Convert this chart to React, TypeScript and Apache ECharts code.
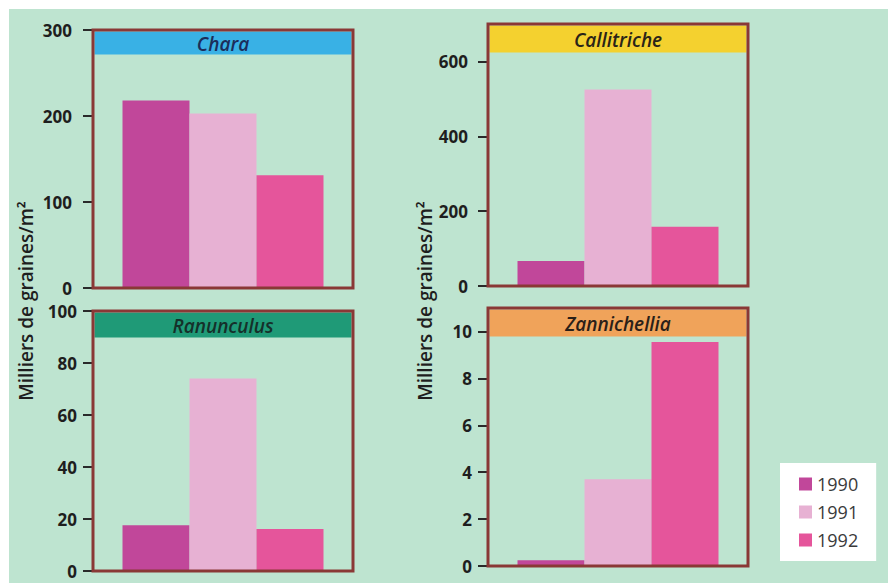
import React, { useEffect, useRef } from "react";
import * as echarts from "echarts";

// ---- data ----
const years = ["1990", "1991", "1992"];
const species = ["Chara", "Callitriche", "Ranunculus", "Zannichellia"];
const charaValues = [218, 203, 131];
const callitricheValues = [67, 525, 158];
const ranunculusValues = [17.6, 74, 16.2];
const zannichelliaValues = [0.25, 3.7, 9.55];
const charaTicks = [0, 100, 200, 300];
const callitricheTicks = [0, 200, 400, 600];
const ranunculusTicks = [0, 20, 40, 60, 80, 100];
const zannichelliaTicks = [0, 2, 4, 6, 8, 10];
const axisMax = [300, 700, 100, 11];
const axisTitle = "Milliers de graines/m²";

const seriesValues = [charaValues, callitricheValues, ranunculusValues, zannichelliaValues];
const tickValues = [charaTicks, callitricheTicks, ranunculusTicks, zannichelliaTicks];

// ---- styles / layout ----
const yearColors = ["#c1479a", "#e7b1d3", "#e5559b"];
const bandColors = ["#39b1e5", "#f4d12f", "#1f9a77", "#f0a35a"];
const titleColors = ["#1c2d5a", "#2a2418", "#15302a", "#2a2018"];
const layout = [
  { left: 93, top: 30, width: 260, height: 258, bandH: 23, margin: 21 },
  { left: 488, top: 24, width: 260, height: 262, bandH: 27, margin: 20 },
  { left: 93, top: 311, width: 260, height: 260, bandH: 25, margin: 16 },
  { left: 488, top: 308, width: 260, height: 258, bandH: 27, margin: 16 },
];
const MINT = "#bee4d0";
const FRAME = "#8a3836";
const FONT = "'Open Sans', 'DejaVu Sans', sans-serif";

export default function App() {
  const ref = useRef<HTMLDivElement>(null);
  useEffect(() => {
    document.body.style.margin = "0";
    if (!ref.current) return;
    const chart = echarts.init(ref.current, undefined, { renderer: "svg" });

    const grids = layout.map((l) => ({
      left: l.left,
      top: l.top,
      width: l.width,
      height: l.height,
      show: true,
      z: 10,
      backgroundColor: "transparent",
      borderColor: FRAME,
      borderWidth: 3,
      containLabel: false,
      outerBoundsMode: "none",
    }));

    const xAxes = layout.map((_, i) => ({
      type: "category",
      gridIndex: i,
      data: [species[i]],
      show: false,
    }));

    const yAxes = layout.map((l, i) => ({
      type: "value",
      gridIndex: i,
      min: 0,
      max: axisMax[i],
      axisLine: { show: false },
      splitLine: { show: false },
      axisTick: {
        show: true,
        length: 10,
        inside: false,
        customValues: tickValues[i],
        lineStyle: { color: "#2a2a2a", width: 2 },
      },
      axisLabel: {
        customValues: tickValues[i],
        margin: l.margin,
        color: "#1e1e1e",
        fontSize: 17,
        fontWeight: "bold",
        fontFamily: FONT,
      },
    }));

    const series: any[] = [];
    layout.forEach((_, i) => {
      years.forEach((y, j) => {
        series.push({
          type: "bar",
          name: y,
          xAxisIndex: i,
          yAxisIndex: i,
          data: [seriesValues[i][j]],
          barWidth: 67,
          barGap: "0%",
          itemStyle: { color: yearColors[j] },
          emphasis: { disabled: true },
        });
      });
    });

    const graphics: any[] = [
      {
        type: "rect",
        z: -10,
        shape: { x: 9, y: 9, width: 888, height: 583 },
        style: { fill: MINT },
      },
    ];
    layout.forEach((l, i) => {
      graphics.push({
        type: "rect",
        z: 5,
        shape: { x: l.left + 1.5, y: l.top + 1.5, width: l.width - 3, height: l.bandH },
        style: { fill: bandColors[i] },
      });
      graphics.push({
        type: "text",
        z: 6,
        x: l.left + l.width / 2,
        y: l.top + 2 + l.bandH / 2,
        style: {
          text: species[i],
          fill: titleColors[i],
          fontSize: 19,
          fontStyle: "italic",
          fontWeight: 600,
          fontFamily: FONT,
          textAlign: "center",
          textVerticalAlign: "middle",
        },
      });
    });
    [26, 425].forEach((x) => {
      graphics.push({
        type: "text",
        z: 6,
        x,
        y: 301,
        rotation: Math.PI / 2,
        style: {
          text: axisTitle,
          fill: "#1e1e1e",
          fontSize: 19,
          fontWeight: 600,
          fontFamily: FONT,
          textAlign: "center",
          textVerticalAlign: "middle",
        },
      });
    });

    chart.setOption({
      animation: false,
      backgroundColor: "#ffffff",
      grid: grids,
      xAxis: xAxes,
      yAxis: yAxes,
      series,
      graphic: { elements: graphics },
      legend: {
        data: years,
        orient: "vertical",
        left: 780,
        top: 463,
        backgroundColor: "#ffffff",
        padding: [12, 18, 12, 19],
        itemWidth: 13,
        itemHeight: 13,
        itemGap: 10,
        icon: "rect",
        selectedMode: false,
        itemStyle: { borderWidth: 0 },
        textStyle: { fontSize: 18, color: "#3a3a3a", fontFamily: FONT },
      },
      tooltip: { show: false },
    });
    return () => chart.dispose();
  }, []);

  return <div ref={ref} style={{ width: 888, height: 583 }} />;
}
